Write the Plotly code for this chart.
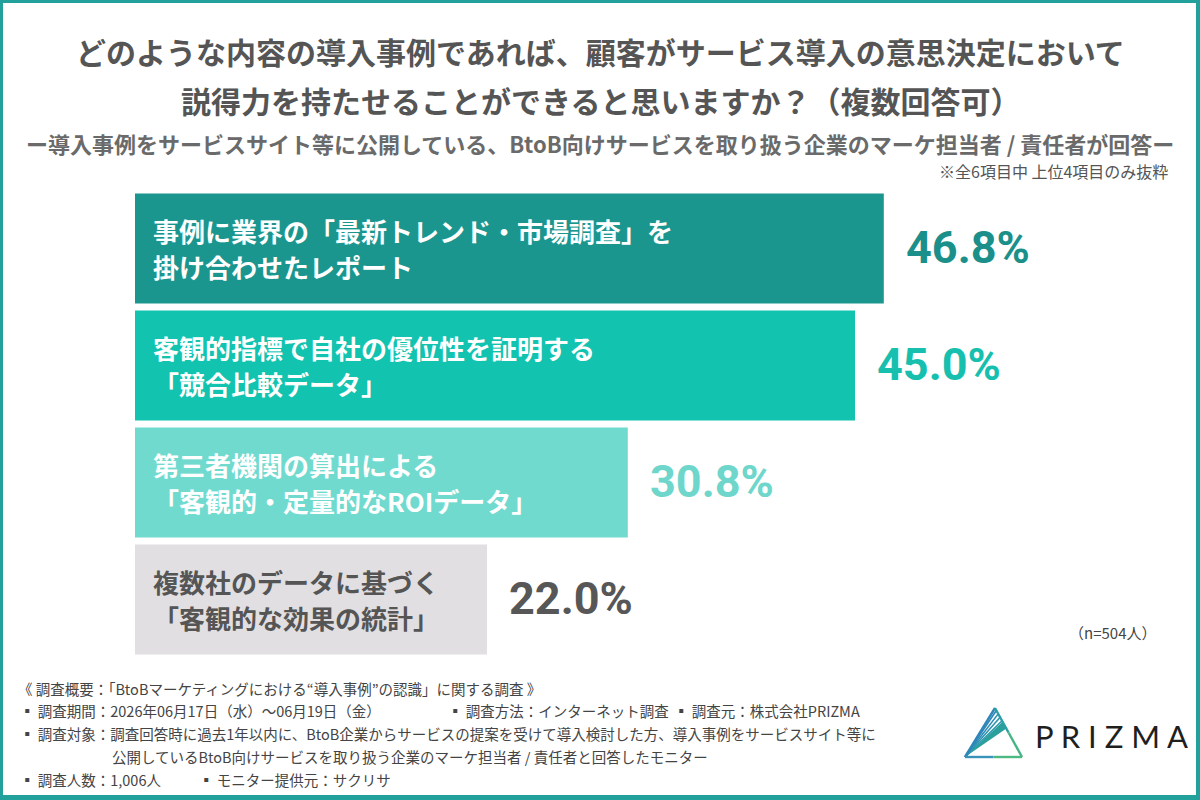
import plotly.graph_objects as go

# ---------------- data ----------------
categories = ["cat1", "cat2", "cat3", "cat4"]
label_line1 = [
    "事例に業界の「最新トレンド・市場調査」を",
    "客観的指標で自社の優位性を証明する",
    "第三者機関の算出による",
    "複数社のデータに基づく",
]
label_line2 = [
    "掛け合わせたレポート",
    "「競合比較データ」",
    "「客観的・定量的なROIデータ」",
    "「客観的な効果の統計」",
]
values = [46.8, 45.0, 30.8, 22.0]
value_texts = ["46.8%", "45.0%", "30.8%", "22.0%"]

bar_colors = ["#1b968f", "#12c3b0", "#71dacf", "#e1dfe1"]
value_colors = ["#1b908a", "#16bfae", "#6ed6cb", "#575757"]
label_colors = ["#ffffff", "#ffffff", "#ffffff", "#555555"]

title_lines = [
    "どのような内容の導入事例であれば、顧客がサービス導入の意思決定において",
    "説得力を持たせることができると思いますか？（複数回答可）",
]
subtitle = "ー導入事例をサービスサイト等に公開している、BtoB向けサービスを取り扱う企業のマーケ担当者 / 責任者が回答ー"
note = "※全6項目中 上位4項目のみ抜粋"
n_text = "（n=504人）"

footer = [
    # (text, x px, y px)
    ("《 調査概要：「BtoBマーケティングにおける“導入事例”の認識」に関する調査 》", 16, 688),
    ("▪ 調査期間：2026年06月17日（水）～06月19日（金）", 18, 710),
    ("▪ 調査方法：インターネット調査", 446, 710),
    ("▪ 調査元：株式会社PRIZMA", 672, 710),
    ("▪ 調査対象：調査回答時に過去1年以内に、BtoB企業からサービスの提案を受けて導入検討した方、導入事例をサービスサイト等に", 18, 733),
    ("公開しているBtoB向けサービスを取り扱う企業のマーケ担当者 / 責任者と回答したモニター", 110, 756),
    ("▪ 調査人数：1,006人", 18, 779),
    ("▪ モニター提供元：サクリサ", 197, 779),
]

# ---------------- layout geometry ----------------
W, H = 1200, 800
ML, MR, MT, MB = 135, 25, 190, 142
PW, PH = W - ML - MR, H - MT - MB


def xp(px):
    return (px - ML) / PW


def yp(py):
    return (H - MB - py) / PH


CJK = "Noto Sans CJK JP, Noto Sans, sans-serif"
NUM = "Roboto, Noto Sans, sans-serif"

fig = go.Figure()
fig.add_trace(go.Bar(
    x=values,
    y=categories,
    orientation="h",
    marker=dict(color=bar_colors, line=dict(width=0)),
    width=0.94,
    hoverinfo="skip",
))

annotations = []
# bar labels
for c, l1, l2, col in zip(categories, label_line1, label_line2, label_colors):
    for txt, ys in ((l1, 18), (l2, -18)):
        annotations.append(dict(
            x=0, y=c, xref="x", yref="y", text=txt, showarrow=False,
            xanchor="left", yanchor="middle", xshift=16, yshift=ys,
            font=dict(family=CJK, size=26, color=col, weight="bold"),
        ))
# value labels
for c, v, t, col in zip(categories, values, value_texts, value_colors):
    annotations.append(dict(
        x=v, y=c, xref="x", yref="y", text=t, showarrow=False,
        xanchor="left", yanchor="middle", xshift=20, yshift=1,
        font=dict(family=NUM, size=45, color=col, weight="bold"),
    ))

# titles
annotations.append(dict(x=xp(600), y=yp(51), xref="paper", yref="paper", text=title_lines[0],
                        showarrow=False, xanchor="center", yanchor="middle",
                        font=dict(family=CJK, size=30, color="#555555", weight="bold")))
annotations.append(dict(x=xp(600), y=yp(100), xref="paper", yref="paper", text=title_lines[1],
                        showarrow=False, xanchor="center", yanchor="middle",
                        font=dict(family=CJK, size=30, color="#555555", weight="bold")))
annotations.append(dict(x=xp(600), y=yp(143), xref="paper", yref="paper", text=subtitle,
                        showarrow=False, xanchor="center", yanchor="middle",
                        font=dict(family=CJK, size=22, color="#6a6a6a", weight="bold")))
annotations.append(dict(x=xp(1170), y=yp(171), xref="paper", yref="paper", text=note,
                        showarrow=False, xanchor="right", yanchor="middle",
                        font=dict(family=CJK, size=16, color="#555555")))
annotations.append(dict(x=xp(1158), y=yp(632), xref="paper", yref="paper", text=n_text,
                        showarrow=False, xanchor="right", yanchor="middle",
                        font=dict(family=CJK, size=15, color="#444444")))

for txt, x, y in footer:
    annotations.append(dict(x=xp(x), y=yp(y), xref="paper", yref="paper", text=txt,
                            showarrow=False, xanchor="left", yanchor="middle",
                            font=dict(family=CJK, size=14.5, color="#444444")))

# logo text
annotations.append(dict(x=xp(1033), y=yp(736), xref="paper", yref="paper", text="P R I Z M A",
                        showarrow=False, xanchor="left", yanchor="middle",
                        font=dict(family="Lato, Roboto, sans-serif", size=31, color="#1f1f1f")))

shapes = []
# frame: white card over teal paper
shapes.append(dict(type="rect", xref="paper", yref="paper", layer="below",
                   x0=xp(3), x1=xp(1196), y0=yp(3), y1=yp(795),
                   fillcolor="#ffffff", line=dict(width=0)))

# logo triangle
BL, AP, BR = (965, 757), (995, 708), (1022, 757)


def seg(p, q, color, w=2.2):
    shapes.append(dict(type="line", xref="paper", yref="paper",
                       x0=xp(p[0]), y0=yp(p[1]), x1=xp(q[0]), y1=yp(q[1]),
                       line=dict(color=color, width=w)))


def lerp(p, q, t):
    return (p[0] + (q[0] - p[0]) * t, p[1] + (q[1] - p[1]) * t)


# filled wedge
w1, w2 = lerp(AP, BR, 0.28), lerp(AP, BR, 0.42)
shapes.append(dict(type="path", xref="paper", yref="paper",
                   path=f"M {xp(BL[0])},{yp(BL[1])} L {xp(w1[0])},{yp(w1[1])} L {xp(w2[0])},{yp(w2[1])} Z",
                   fillcolor="#2a9f9b", line=dict(width=0)))
for t, col in ((0.05, "#2f86b8"), (0.12, "#2e8cb6"), (0.19, "#2c93b2"), (0.26, "#2a99ac")):
    seg(BL, lerp(AP, BR, t), col, 1.6)
seg(BL, AP, "#2f86b8", 2.4)
seg(AP, lerp(AP, BR, 0.5), "#2aa0a4", 2.4)
seg(lerp(AP, BR, 0.5), BR, "#45b585", 2.4)
seg(BL, lerp(BL, BR, 0.5), "#3a92b8", 2.4)
seg(lerp(BL, BR, 0.5), BR, "#4cb882", 2.4)

fig.update_layout(
    width=W, height=H, autosize=False,
    margin=dict(l=ML, r=MR, t=MT, b=MB, pad=0),
    paper_bgcolor="#21a09c",
    plot_bgcolor="rgba(0,0,0,0)",
    showlegend=False,
    xaxis=dict(range=[0, PW / 16.0], visible=False, fixedrange=True),
    yaxis=dict(categoryorder="array", categoryarray=categories,
               range=[3.5, -0.5], autorange=False, visible=False, fixedrange=True),
    annotations=annotations,
    shapes=shapes,
    bargap=0.06,
)

fig.write_html("out.html")
